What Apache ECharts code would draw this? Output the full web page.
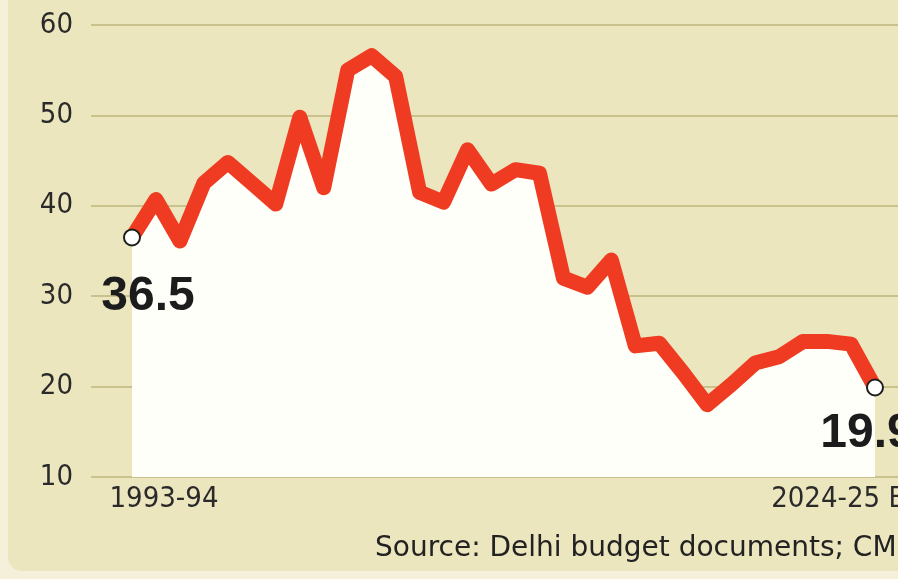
<!DOCTYPE html>
<html>
<head>
<meta charset="utf-8">
<script src="https://cdn.jsdelivr.net/npm/echarts@6/dist/echarts.min.js"></script>
<style>
  html, body { margin: 0; padding: 0; background: #f4f0d9; width: 898px; height: 579px; overflow: hidden; }
  #chart { position: absolute; left: 8px; top: 0; width: 890px; height: 571px; background: #ece6bf; border-bottom-left-radius: 14px; }
</style>
</head>
<body>
<div id="chart"></div>
<script>
const years = ["1993-94","1994-95","1995-96","1996-97","1997-98","1998-99","1999-00","2000-01","2001-02","2002-03","2003-04","2004-05","2005-06","2006-07","2007-08","2008-09","2009-10","2010-11","2011-12","2012-13","2013-14","2014-15","2015-16","2016-17","2017-18","2018-19","2019-20","2020-21","2021-22","2022-23","2023-24","2024-25 BE"];
const values = [36.5,40.7,36.1,42.5,44.8,42.5,40.2,49.8,42.0,55.0,56.6,54.3,41.5,40.4,46.2,42.4,44.0,43.6,32.0,31.0,34.0,24.5,24.8,21.5,18.0,20.2,22.6,23.3,25.0,25.0,24.7,19.9];
const yTicks = [10,20,30,40,50,60];
const xLabelIdx = [0, years.length - 1];
const endLabelOffsets = { 0: [16, 59], 31: [-8, 46] };

const chart = echarts.init(document.getElementById('chart'));
const data = values.map((v, i) => {
  const d = { value: [i, v] };
  if (i === 0 || i === values.length - 1) {
    d.symbol = 'circle';
    d.symbolSize = 16;
    d.itemStyle = { color: '#ffffff', borderColor: '#1e1e1e', borderWidth: 2 };
    d.label = {
      show: true,
      position: 'inside',
      offset: endLabelOffsets[i],
      formatter: String(v),
      fontFamily: "'Liberation Sans', Arial, sans-serif",
      fontWeight: 'bold',
      fontSize: 48,
      color: '#1c1c1c',
      align: 'center',
      verticalAlign: 'middle'
    };
  }
  return d;
});

chart.setOption({
  animation: false,
  title: {
    text: 'Source: Delhi budget documents; CMIE',
    left: 362, top: 530,
    textStyle: { fontFamily: "'DejaVu Sans', sans-serif", fontSize: 28, fontWeight: 'normal', color: '#222' }
  },
  grid: { left: 83, right: 0, top: 25, bottom: 94, outerBoundsMode: 'none', containLabel: false },
  xAxis: {
    type: 'value',
    min: -1.71, max: 31.96,
    axisLine: { show: false },
    axisTick: { show: false },
    splitLine: { show: false },
    axisLabel: {
      customValues: xLabelIdx,
      margin: 8,
      hideOverlap: false,
      formatter: v => v === 0 ? '{a|' + years[v] + '}' : '{b|' + years[v] + '}',
      rich: {
        a: { fontFamily: "'DejaVu Sans Condensed', sans-serif", fontSize: 29, color: '#2a2a2a', padding: [0, 0, 0, 64] },
        b: { fontFamily: "'DejaVu Sans Condensed', sans-serif", fontSize: 29, color: '#2a2a2a', padding: [0, 56, 0, 0] }
      }
    }
  },
  yAxis: {
    type: 'value',
    min: 10, max: 60, interval: 10,
    axisLine: { show: false },
    axisTick: { show: false },
    axisLabel: { margin: 18, fontFamily: "'DejaVu Sans Condensed', sans-serif", fontSize: 29, color: '#2a2a2a',
      formatter: v => yTicks.includes(v) ? String(v) : '' },
    splitLine: { lineStyle: { color: '#c9c28c', width: 2 } }
  },
  series: [{
    type: 'line',
    data: data,
    symbol: 'none',
    showSymbol: true,
    z: 3,
    lineStyle: { color: '#ef3b22', width: 15, cap: 'round', join: 'round' },
    areaStyle: { color: '#fffffa', opacity: 1, origin: 'start' }
  }]
});
</script>
</body>
</html>
